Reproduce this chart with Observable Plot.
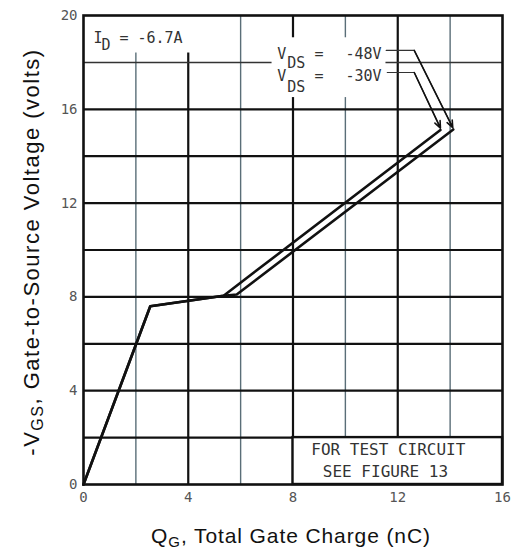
<!DOCTYPE html>
<html>
<head>
<meta charset="utf-8">
<script src="https://cdn.jsdelivr.net/npm/d3@7"></script>
<script src="https://cdn.jsdelivr.net/npm/@observablehq/plot@0.6"></script>
<style>
  html, body { margin: 0; padding: 0; background: #fff; }
</style>
</head>
<body>
<div id="chart"></div>
<script>
// Tick labels
const xTicks = [0, 4, 8, 12, 16];
const yTicks = [0, 4, 8, 12, 16, 20];
// Grid lines
const gridXMajor = [4, 8, 12];
const gridXMinor = [2, 6, 10, 14];
const gridYMajor = [2, 4, 6, 8, 10, 12, 14, 16];
const gridYMinor = [18];

// Series: Q_G (nC) vs -V_GS (V)
const q30 = [0, 2.55, 5.35, 13.63];
const v30 = [0, 7.6, 8.05, 15.12];
const q48 = [0, 2.55, 5.35, 5.85, 14.12];
const v48 = [0, 7.6, 8.05, 8.1, 15.14];

// Leader lines from labels to curve ends
const lead30Q = [11.6, 12.63, 13.63];
const lead30V = [17.57, 17.57, 15.2];
const lead48Q = [11.56, 12.63, 14.1];
const lead48V = [18.51, 18.51, 15.22];

// Label texts
const idLabel = ["I", "D", "= -6.7A"];
const vds48Label = ["V", "DS", "=", "-48V"];
const vds30Label = ["V", "DS", "=", "-30V"];
const boxLabel = ["FOR TEST CIRCUIT", "SEE FIGURE 13"];

const series = [
  ...q30.map((q, i) => ({q, v: v30[i], s: "-30V"})),
  ...q48.map((q, i) => ({q, v: v48[i], s: "-48V"}))
];
const leaders = [
  ...lead30Q.map((q, i) => ({q, v: lead30V[i], s: "-30V"})),
  ...lead48Q.map((q, i) => ({q, v: lead48V[i], s: "-48V"}))
];
const arrowHeads = [
  {x1: lead30Q[1], y1: lead30V[1], x2: lead30Q[2], y2: lead30V[2]},
  {x1: lead48Q[1], y1: lead48V[1], x2: lead48Q[2], y2: lead48V[2]}
];

// annotation anchors (data units)
const annMain = [
  {x: 0.38, y: 19.04, t: idLabel[0]},
  {x: 1.37, y: 19.04, t: idLabel[2]},
  {x: 7.40, y: 18.36, t: vds48Label[0]},
  {x: 8.82, y: 18.34, t: vds48Label[2]},
  {x: 10.0, y: 18.34, t: vds48Label[3]},
  {x: 7.40, y: 17.40, t: vds30Label[0]},
  {x: 8.82, y: 17.40, t: vds30Label[2]},
  {x: 10.0, y: 17.40, t: vds30Label[3]}
];
const annSub = [
  {x: 0.69, y: 18.74, t: idLabel[1]},
  {x: 7.78, y: 17.97, t: vds48Label[1]},
  {x: 7.78, y: 16.95, t: vds30Label[1]}
];
const annBox = [
  {x: 11.64, y: 1.49, t: boxLabel[0]},
  {x: 11.53, y: 0.55, t: boxLabel[1]}
];

const mono = "DejaVu Sans Mono";

const plot = Plot.plot({
  width: 514,
  height: 552,
  marginLeft: 83,
  marginRight: 12,
  marginTop: 15,
  marginBottom: 68,
  x: {domain: [0, 16]},
  y: {domain: [0, 20]},
  style: {background: "#fff", fontFamily: mono},
  marks: [
    Plot.ruleX(gridXMinor, {stroke: "#5a6e78", strokeWidth: 1.4}),
    Plot.ruleX(gridXMajor, {stroke: "#111", strokeWidth: 2.2}),
    Plot.ruleY(gridYMajor, {stroke: "#111", strokeWidth: 2.2}),
    Plot.ruleY(gridYMinor, {stroke: "#333", strokeWidth: 1.5}),
    Plot.rect([{x1: 0, x2: 4.6, y1: 18.4, y2: 20}], {x1: "x1", x2: "x2", y1: "y1", y2: "y2", fill: "#fff"}),
    Plot.rect([{x1: 7.2, x2: 11.55, y1: 16.5, y2: 19.05}], {x1: "x1", x2: "x2", y1: "y1", y2: "y2", fill: "#fff"}),
    Plot.rect([{x1: 8, x2: 16, y1: 0, y2: 2}], {x1: "x1", x2: "x2", y1: "y1", y2: "y2", fill: "#fff", stroke: "#111", strokeWidth: 2.4}),
    Plot.frame({stroke: "#111", strokeWidth: 2.6}),
    Plot.line(series, {x: "q", y: "v", z: "s", stroke: "#111", strokeWidth: 2.6, strokeLinejoin: "round"}),
    Plot.line(leaders, {x: "q", y: "v", z: "s", stroke: "#333", strokeWidth: 1.2}),
    Plot.arrow(arrowHeads, {x1: "x1", y1: "y1", x2: "x2", y2: "y2", stroke: "#111", strokeWidth: 1.6, headLength: 7, headAngle: 45}),
    Plot.text(annMain, {x: "x", y: "y", text: "t", textAnchor: "start", fontSize: 15, fontFamily: mono, fill: "#333"}),
    Plot.text(annSub, {x: "x", y: "y", text: "t", textAnchor: "start", fontSize: 15, fontFamily: mono, fill: "#333"}),
    Plot.text(annBox, {x: "x", y: "y", text: "t", textAnchor: "middle", fontSize: 16, fontFamily: mono, fill: "#333"}),
    Plot.axisX(xTicks, {tickSize: 0, tickPadding: 8, fontSize: 14, fill: "#555", label: null}),
    Plot.axisY(yTicks, {tickSize: 0, tickPadding: 6, fontSize: 14, fill: "#555", label: null})
  ]
});

const svg = d3.select(plot);
// X axis title
const xt = svg.append("text")
  .attr("x", 291).attr("y", 543)
  .attr("text-anchor", "middle")
  .attr("font-family", "Liberation Sans, Arial, sans-serif")
  .attr("font-size", 21)
  .attr("letter-spacing", 0.9)
  .attr("fill", "#111");
xt.append("tspan").text("Q");
xt.append("tspan").attr("font-size", 15).attr("dy", 4).text("G");
xt.append("tspan").attr("dy", -4).text(", Total Gate Charge (nC)");

// Y axis title
const yt = svg.append("text")
  .attr("transform", "translate(38.5,252) rotate(-90)")
  .attr("text-anchor", "middle")
  .attr("font-family", "Liberation Sans, Arial, sans-serif")
  .attr("font-size", 22)
  .attr("letter-spacing", 1.5)
  .attr("fill", "#111");
yt.append("tspan").text("-V");
yt.append("tspan").attr("font-size", 16).attr("dy", 4).text("GS");
yt.append("tspan").attr("dy", -4).text(", Gate-to-Source Voltage (volts)");

document.getElementById("chart").appendChild(plot);
</script>
</body>
</html>
